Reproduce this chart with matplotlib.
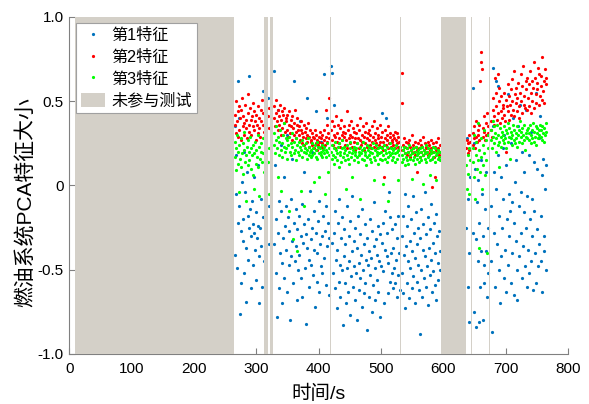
import numpy as np
import matplotlib
matplotlib.use('Agg')
import matplotlib.pyplot as plt
from matplotlib.patches import Patch
from matplotlib.lines import Line2D

plt.rcParams['font.family'] = ['Liberation Sans', 'Noto Sans CJK SC', 'DejaVu Sans']
plt.rcParams['axes.unicode_minus'] = False

# start time (s) of each stretch of valid samples, 1 sample per second
seg_start = [265, 319, 328, 420, 533, 637, 647, 676]

# feature values x100, one list per stretch
feat1 = [
    [35, -41, -5, 18, -49, 62, -22, -12, 40, -76, -27, -58, 2, -33, -20, 20, -52, -4, -69, -37, 8, -18, -44, -25,
     65, -14, -61, -30, -9, -47, -23, -28, 5, -38, -56, -16, -31, -24, 12, -42, -70, -25, -8, -36, -60, -19, 56, -45],
    [52, -35, -12],
    [68, -35, 12, -52, -20, -78, 45, -28, -9, -61, -40, 24, -15, -46, -70, -31, 5, -55, -24, -12,
     -38, -63, 30, -19, -47, -27, -80, -8, -42, 16, -33, -58, -22, 62, -45, -14, -36, -68, -26, -50,
     -18, -41, 38, -30, -55, -11, -66, -34, -23, 8, -49, -82, -29, -37, 52, -20, -60, -44, -3, -32,
     -47, -25, 20, -53, -38, -15, -72, -28, 44, -40, -57, -21, -9, -63, -35, -48, 26, -30, -52, -18,
     -43, 66, -27, -59, -12, 40, -36, -22, -65, -31],
    [71, -34, 67, -52, 48, -28, -61, -15, -44, -73, -38, -22, -57, -8, -47, -66, -31, -50, -19, -83,
     -42, -26, -58, -35, -70, -12, -49, -63, -30, -45, -77, -21, -54, -39, -6, -60, -33, -48, -68, -25,
     -52, -37, -80, -18, -46, -62, -29, -55, -41, -72, -14, -50, -35, -64, -23, -58, -44, -86, -31, -47,
     -39, -66, -20, -53, -43, -75, -27, -59, -36, -10, -49, -68, -32, -56, -41, -24, -63, -45, -78, -29,
     -48, -34, 43, -22, -51, -70, -38, -15, 40, -42, -28, -64, -46, -4, -57, -19, -40, -52, -26, -61,
     -37, -49, -23, -58, -44, -31, -66, -18, -53, -40, -62],
    [-30, -52, -18, -64, -41, -5, -73, -36, -24, -58, -45, -12, -67, -33, -49, -20, -61, -39, -6, -54,
     -28, -70, -43, -16, -57, -35, -47, -25, -62, -88, -31, -50, -14, -66, -38, -23, -55, -42, -4, -60,
     -29, -48, -19, -71, -37, -53, -26, -44, -11, -63, -34, -51, -22, -59, -40, -17, -68, -30, -46, -56,
     -27, -39, -50],
    [-25, 28, -60, -8, -81, -40, 5],
    [58, -28, 25, -75, 10, -32, -84, -10, -45, 3, -81, -22, -60, 15, -39, -5, -80, -30, -58, -47,
     -14, -39, 8, -66, -25, -52],
    [-12, -45, -87, 35, 70, -28, 8, -60, -2, 62, -35, 59, 18, -50, -18, -70, 5, -42, -25, 22,
     -8, -55, 30, -38, -63, 12, -20, -47, 54, -30, -5, -15, -58, 25, -40, -10, 40, -65, -22, 2,
     -33, 15, -50, -68, 35, -12, -42, 48, -28, -4, -55, 20, -36, -16, 8, -48, -25, 45, -60, -6,
     -38, 18, -52, -20, 32, -45, -8, -30, -62, 14, -15, -40, 55, -58, -26, 10, -48, 28, -35, 41,
     -18, -45, 6, -63, 16, -30, -39, -2, -50, 12],
]

feat2 = [
    [36, 42, 31, 50, 38, 29, 44, 47, 33, 40, 27, 45, 52, 35, 41, 30, 37, 48, 34, 39, 28, 43, 54, 36,
     32, 46, 39, 30, 41, 35, 49, 44, 33, 38, 27, 42, 36, 31, 47, 40, 34, 29, 45, 38, 51, 36, 43, 32],
    [41, 34, 46],
    [40, 47, 35, 43, 51, 38, 33, 45, 41, 36, 48, 30, 39, 44, 34, 42, 37, 46, 32, 40,
     38, 33, 42, 29, 36, 44, 31, 39, 35, 27, 41, 34, 30, 37, 45, 32, 28, 36, 40, 33,
     30, 35, 27, 33, 38, 25, 31, 29, 36, 24, 32, 28, 34, 26, 30, 37, 23, 29, 33, 27,
     26, 31, 24, 29, 22, 28, 33, 25, 30, 21, 27, 24, 29, 26, 32, 23, 28, 25, 30, 22,
     27, 33, 24, 45, 29, 36, 26, 31, 52, 28],
    [33, 27, 38, 24, 30, 35, 22, 29, 41, 26, 31, 36, 25, 28, 34, 23, 39, 30, 27, 32,
     29, 35, 24, 31, 27, 44, 22, 33, 28, 36, 25, 30, 38, 23, 29, 34, 26, 32, 21, 28,
     31, 25, 36, 28, 22, 33, 27, 40, 24, 30, 26, 35, 21, 29, 32, 25, 37, 28, 23, 31,
     27, 33, 24, 30, 22, 35, 26, 29, 38, 23, 31, 27, 25, 34, 22, 28, 30, 24, 36, 26,
     29, 23, 32, 26, 21, 5, 28, 33, 24, 30, 27, 22, 35, 25, 29, 31, 23, 27, 26, 30,
     24, 28, 32, 22, 27, 25, 31, 23, 29, 26, 21],
    [67, 49, 24, 21, 28, 19, 23, 26, 18, 22, 25, 20, 27, 17, 23, 21, 30, 19, 24, 22,
     20, 26, 18, 23, 21, 8, 25, 19, 22, 27, 17, 24, 20, 23, 29, 18, 21, 25, 19, 22,
     23, 20, 26, 18, 24, 21, 19, 27, 22, -1, 20, 25, 17, 23, 5, 21, 26, 19, 28, 22, 18, 24, 20],
    [22, 27, 19, 25, 30, 21, 26],
    [24, 31, 28, 35, 22, 29, 38, 26, 33, 30, 27, 36, 62, 79, 73, 69, 34, 29, 41, 32,
     27, 37, 30, 43, 35, 31],
    [33, 38, 29, 45, 52, 41, 36, 64, 47, 55, 39, 66, 43, 50, 58, 37, 44, 53, 40, 48,
     46, 55, 42, 38, 51, 20, 47, 44, 60, 39, 53, 48, 57, 42, 63, 50, 45, 68, 41, 54,
     49, 58, 44, 52, 61, 47, 40, 55, 66, 50, 43, 59, 71, 48, 53, 46, 62, 57, 45, 64,
     52, 60, 47, 68, 55, 43, 62, 50, 58, 73, 46, 64, 54, 49, 61, 57, 70, 48, 66, 53,
     59, 65, 51, 76, 56, 62, 49, 69, 60, 64],
]

feat3 = [
    [17, 26, 9, 22, 30, 13, 20, -4, 24, 16, 28, 11, 19, 25, 7, 21, 32, 14, 18, -9, 23, 27, 12, 20,
     15, 29, 10, 22, 18, 6, 24, -2, 19, 26, 13, 21, 17, 30, 11, 23, -6, 16, 25, 20, 14, 28, 19, 8],
    [14, 22, -5],
    [24, 31, 19, 27, 35, 22, 5, 29, 18, 26, 33, 21, -3, 25, 17, 30, 23, 37, 20, 28,
     22, 27, 16, 24, -15, 29, 20, 25, 18, 31, 23, -32, 19, 26, 21, 28, 15, -39, 24, 20,
     26, 18, 23, -3, 21, 27, 17, 24, 20, -12, 22, 19, 25, 16, 21, 28, 18, 23, 20, 17,
     21, 25, 18, 22, 2, 19, 24, 17, 21, 26, 16, 23, 19, 5, 22, 18, 20, 24, 17, 21,
     19, 23, -5, 21, 17, 25, 20, 8, 22, 18],
    [20, 16, 24, 18, 13, 22, 26, 17, 21, 15, 19, 23, 11, 25, 18, 20, 14, 22, 27, 17,
     19, 23, 15, 21, -2, 18, 24, 16, 20, 13, 22, 26, 17, 19, 5, 21, 15, 23, 18, 20,
     22, 17, 25, 14, 20, 18, 23, -8, 19, 16, 21, 26, 15, 22, 18, 20, 12, 24, 17, 21,
     18, 23, 16, 20, 14, 22, 19, 25, 3, 17, 21, 15, 24, 18, 20, 13, 22, 19, 16, 23,
     20, 15, 22, 18, 1, 24, 16, 21, 19, 14, 23, -9, 17, 20, 25, 18, 22, 15, 19, 21,
     17, 22, 19, 14, 24, 20, 16, 3, 21, 18, 23],
    [18, 14, 21, 16, 23, 12, 19, 17, 22, 15, 20, 13, 24, 18, 16, 21, 4, 19, 15, 22,
     17, 20, 13, 23, 18, 16, 21, 19, 14, 22, 17, 20, 15, 23, 18, 1, 21, 16, 19, 24,
     14, 20, 17, 22, 18, 15, 6, 21, 19, 16, 23, 17, 20, 14, 22, 18, 3, 19, 16, 21, 17, 20, 15],
    [12, -2, 18, 7, 22, -5, 15],
    [14, 22, 5, 30, -8, 18, 26, 10, 37, 15, -37, 21, 8, 28, 17, -2, 24, 12, 33, 19,
     6, 27, 15, -40, 22, 30],
    [27, 33, 22, 38, 29, 25, 35, 31, 20, 28, 36, 24, 30, 11, 26, 34, 29, 23, 32, 27,
     30, 25, 35, 28, 33, 22, 31, 37, 26, 29, 34, 16, 28, 32, 24, 30, 36, 27, 33, 25,
     31, 28, 35, 23, 30, 33, 26, 38, 29, 32, 25, 34, 30, 27, 36, 21, 31, 29, 33, 28,
     34, 27, 31, 36, 25, 30, 33, 28, 37, 26, 32, 29, 35, 24, 31, 34, 28, 33, 30, 36,
     29, 33, 27, 35, 31, 26, 34, 30, 37, 32],
]

# periods not used in the test (s)
off_spans = [(9, 264), (313, 318.5), (322, 327.5), (417.5, 419.5),
             (530.5, 532.5), (596, 636), (644, 646), (673, 675)]

labels = ['第1特征', '第2特征', '第3特征', '未参与测试']
colors = ['#0072bd', '#ff0000', '#00ff00']
gray = '#d4d0c8'
xticks = [0, 100, 200, 300, 400, 500, 600, 700, 800]
yticks = [-1.0, -0.5, 0, 0.5, 1.0]
yticklabels = ['-1.0', '-0.5', '0', '0.5', '1.0']


def to_xy(segs):
    t = np.concatenate([s + np.arange(len(v)) for s, v in zip(seg_start, segs)])
    y = np.concatenate([np.array(v) / 100.0 for v in segs])
    return t, y


fig = plt.figure(figsize=(5.89, 4.04), dpi=100)
ax = fig.add_axes([0.1177, 0.1238, 0.8466, 0.8342])

for segs, c in zip([feat1, feat2, feat3], colors):
    t, y = to_xy(segs)
    ax.plot(t, y, 'o', ms=2.3, mew=0, color=c, zorder=2)

for a, b in off_spans:
    ax.axvspan(a, b, color=gray, lw=0, zorder=3)

ax.set_xlim(0, 800)
ax.set_ylim(-1, 1)
ax.set_xticks(xticks)
ax.set_yticks(yticks)
ax.set_yticklabels(yticklabels)
for s in ['top', 'right']:
    ax.spines[s].set_visible(False)
for s in ['left', 'bottom']:
    ax.spines[s].set_color('#808080')
    ax.spines[s].set_linewidth(0.8)
ax.tick_params(direction='in', length=4, width=0.8, color='#808080', labelsize=11)
ax.tick_params(axis='x', pad=6)
ax.tick_params(axis='y', pad=4)

ax.set_xlabel('时间/s', fontsize=14, labelpad=6)
ax.set_ylabel('燃油系统PCA特征大小', fontsize=15)
ax.yaxis.set_label_coords(-0.07, 0.45)

handles = [Line2D([], [], ls='none', marker='o', ms=2.3, mew=0, color=c) for c in colors]
handles.append(Patch(facecolor=gray, edgecolor='none'))
leg = ax.legend(handles, labels, loc='upper left', bbox_to_anchor=(0.013, 0.982),
                borderaxespad=0, fontsize=11.6, fancybox=False, framealpha=1,
                edgecolor='#a0a0a0', labelspacing=0.4, handlelength=1.5,
                handleheight=0.9, handletextpad=0.4, borderpad=0.3)
leg.get_frame().set_linewidth(0.8)
leg.set_zorder(5)

fig.savefig('out.png', dpi=100)
